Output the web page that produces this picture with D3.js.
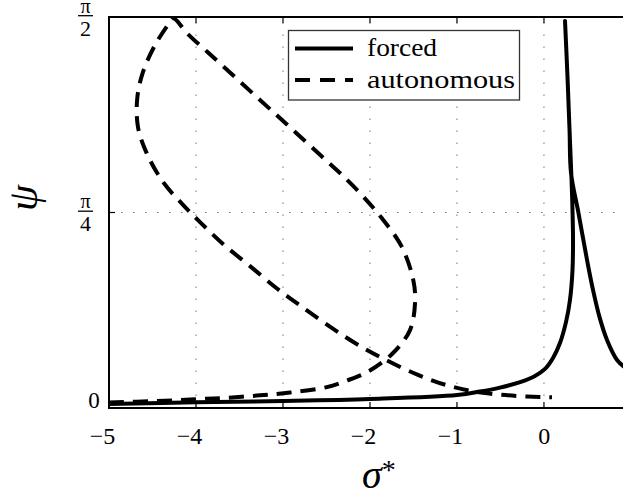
<!DOCTYPE html>
<html>
<head>
<meta charset="utf-8">
<script src="https://cdn.jsdelivr.net/npm/d3@7"></script>
<style>
  html, body { margin: 0; padding: 0; background: #fff; }
  svg { display: block; }
  text { font-family: "Liberation Serif", "DejaVu Serif", serif; fill: #000; }
</style>
</head>
<body>
<svg id="chart" width="623" height="490"></svg>
<script>
// Phase ψ against detuning σ*: forced response and autonomous branch
const forcedSigma = [-5.0, -4.0, -3.0, -2.0, -0.999, -0.736, -0.506, -0.275, -0.103, 0.012, 0.104, 0.184,
  0.253, 0.299, 0.328, 0.334, 0.328, 0.317, 0.294, 0.271, 0.242,
  0.271, 0.294, 0.311, 0.397, 0.495, 0.564, 0.638, 0.725, 0.84, 0.966];
const forcedPsi = [0.016, 0.023, 0.028, 0.036, 0.052, 0.066, 0.082, 0.104, 0.129, 0.157, 0.201, 0.261,
  0.345, 0.434, 0.554, 0.675, 0.795, 0.916, 1.117, 1.326, 1.555,
  1.326, 1.117, 0.944, 0.783, 0.595, 0.474, 0.366, 0.273, 0.193, 0.153];

const autoSigma = [-5.0, -4.452, -4.011, -3.647, -3.264, -2.919, -2.497, -2.268, -2.023, -1.735, -1.540,
  -1.482, -1.502, -1.635, -1.865, -2.095, -2.345, -2.571, -2.848, -3.074, -3.326, -3.603, -3.871,
  -4.107, -4.261, -4.322, -4.471, -4.609, -4.675, -4.667, -4.567, -4.379, -4.149, -3.954, -3.690,
  -3.379, -3.069, -2.804, -2.494, -2.172, -1.850, -1.448, -1.080, -0.701, -0.195, 0.092];
const autoPsi = [0.022, 0.028, 0.035, 0.041, 0.051, 0.062, 0.084, 0.110, 0.146, 0.221, 0.313,
  0.422, 0.514, 0.648, 0.763, 0.856, 0.944, 1.016, 1.105, 1.177, 1.257, 1.346, 1.431,
  1.507, 1.566, 1.539, 1.458, 1.350, 1.245, 1.129, 1.024, 0.908, 0.816, 0.747, 0.659,
  0.570, 0.480, 0.412, 0.335, 0.261, 0.199, 0.133, 0.088, 0.061, 0.046, 0.043];

const xTicks = [-5, -4, -3, -2, -1, 0];
const xTickLabels = ["\u22125", "\u22124", "\u22123", "\u22122", "\u22121", "0"];
const yTicks = [0, Math.PI / 4, Math.PI / 2];
const yTickLabels = [["0"], ["\u03c0", "4"], ["\u03c0", "2"]];
const legendLabels = ["forced", "autonomous"];

const svg = d3.select("#chart");
const plotLeft = 109, plotRight = 624, plotTop = 17, plotBottom = 408;

const x = d3.scaleLinear().domain([-5, 0.92]).range([plotLeft, plotRight]);
const y = d3.scaleLinear().domain([0, Math.PI / 2]).range([plotBottom, plotTop]);

svg.append("defs").append("clipPath").attr("id", "plotclip")
  .append("rect").attr("x", plotLeft).attr("y", plotTop)
  .attr("width", plotRight - plotLeft).attr("height", plotBottom - plotTop);

// dotted grid
const grid = svg.append("g").attr("stroke", "#777").attr("stroke-width", 1)
  .attr("stroke-dasharray", "1.5,10.5");
xTicks.filter(t => t > -5).forEach(t => {
  grid.append("line").attr("x1", x(t)).attr("x2", x(t)).attr("y1", plotBottom).attr("y2", plotTop);
});
yTicks.filter(t => t > 0 && t < Math.PI / 2).forEach(t => {
  grid.append("line").attr("x1", plotLeft).attr("x2", plotRight).attr("y1", y(t)).attr("y2", y(t));
});

// curves
const line = d3.line().x(d => x(d[0])).y(d => y(d[1])).curve(d3.curveCatmullRom.alpha(0.5));
const forced = forcedSigma.map((s, i) => [s, forcedPsi[i]]);
const autonomous = autoSigma.map((s, i) => [s, autoPsi[i]]);

const plot = svg.append("g").attr("clip-path", "url(#plotclip)");
plot.append("path").attr("d", line(autonomous))
  .attr("fill", "none").attr("stroke", "#000").attr("stroke-width", 4)
  .attr("stroke-dasharray", "15,9");
plot.append("path").attr("d", line(forced))
  .attr("fill", "none").attr("stroke", "#000").attr("stroke-width", 4)
  .attr("stroke-linejoin", "round").attr("stroke-linecap", "round");

// axes box and inward ticks
svg.append("rect").attr("x", plotLeft).attr("y", plotTop)
  .attr("width", plotRight - plotLeft).attr("height", plotBottom - plotTop)
  .attr("fill", "none").attr("stroke", "#000").attr("stroke-width", 2);

const ticks = svg.append("g").attr("stroke", "#000").attr("stroke-width", 1.2);
xTicks.forEach(t => {
  ticks.append("line").attr("x1", x(t)).attr("x2", x(t)).attr("y1", plotBottom).attr("y2", plotBottom - 6);
  ticks.append("line").attr("x1", x(t)).attr("x2", x(t)).attr("y1", plotTop).attr("y2", plotTop + 6);
});
yTicks.forEach(t => {
  ticks.append("line").attr("x1", plotLeft).attr("x2", plotLeft + 6).attr("y1", y(t)).attr("y2", y(t));
});

// x tick labels: digit centred on the tick
xTicks.forEach((t, i) => {
  svg.append("text").attr("x", x(t) + 6.2).attr("y", 444)
    .attr("text-anchor", "end").attr("font-size", 24).text(xTickLabels[i]);
});

// y tick labels: 0 and fractions of π
yTicks.forEach((t, i) => {
  const lab = yTickLabels[i];
  const ty = y(t);
  if (lab.length === 1) {
    svg.append("text").attr("x", 94).attr("y", ty).attr("text-anchor", "middle")
      .attr("font-size", 23).text(lab[0]);
  } else {
    svg.append("text").attr("x", 85.5).attr("y", ty - 4.5).attr("text-anchor", "middle")
      .attr("font-size", 20).text(lab[0]);
    svg.append("line").attr("x1", 78).attr("x2", 93).attr("y1", ty - 1.3).attr("y2", ty - 1.3)
      .attr("stroke", "#000").attr("stroke-width", 1.3);
    svg.append("text").attr("x", 85.5).attr("y", ty + 18.5).attr("text-anchor", "middle")
      .attr("font-size", 22).text(lab[1]);
  }
});

// axis titles
const xl = svg.append("text").attr("x", 362).attr("y", 488).attr("font-size", 40)
  .attr("font-style", "italic");
xl.append("tspan").text("\u03c3");
xl.append("tspan").attr("font-size", 28).attr("font-style", "normal").attr("dy", -9).text("*");

svg.append("text").attr("transform", "translate(37,198) rotate(-90)")
  .attr("text-anchor", "middle").attr("font-size", 42).attr("font-style", "italic").text("\u03c8");

// legend
const lg = svg.append("g");
lg.append("rect").attr("x", 288.5).attr("y", 30.5).attr("width", 231).attr("height", 69.5)
  .attr("fill", "#fff").attr("stroke", "#333").attr("stroke-width", 1.3);
const legendRows = [{ y: 48.5, dash: null, ty: 56 }, { y: 80, dash: "15,10", ty: 87.5 }];
legendRows.forEach((r, i) => {
  const l = lg.append("line").attr("x1", 295).attr("x2", 353).attr("y1", r.y).attr("y2", r.y)
    .attr("stroke", "#000").attr("stroke-width", 4);
  if (r.dash) l.attr("stroke-dasharray", r.dash);
  lg.append("text").attr("x", 367).attr("y", r.ty).attr("font-size", 25)
    .attr("textLength", i === 0 ? 70 : 148).attr("lengthAdjust", "spacingAndGlyphs")
    .text(legendLabels[i]);
});
</script>
</body>
</html>
